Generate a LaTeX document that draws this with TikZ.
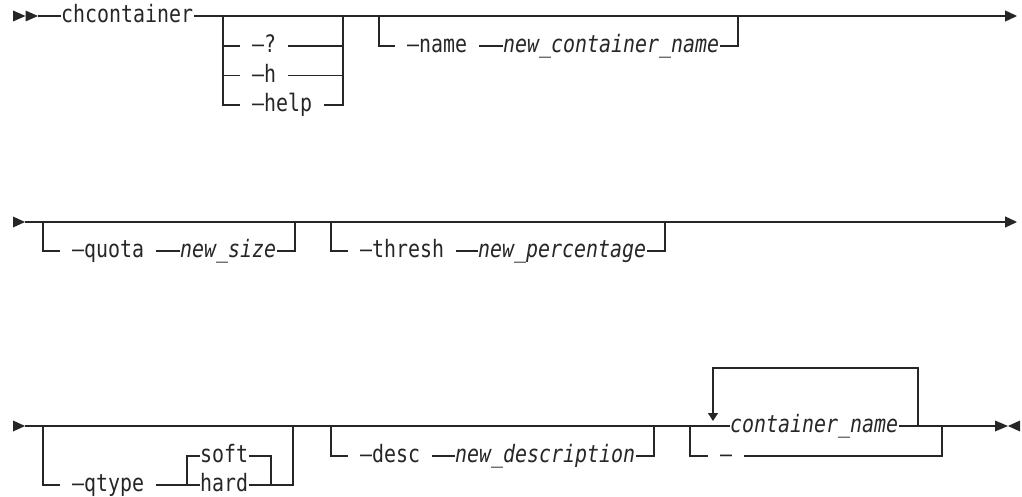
\documentclass[tikz,border=0pt]{standalone}
\usepackage{fontspec}
\newfontfamily\railmono[FakeStretch=0.83]{DejaVu Sans Mono}
\usetikzlibrary{arrows.meta}
\definecolor{ink}{RGB}{38,38,38}
\begin{document}
\begin{tikzpicture}[x=1pt,y=-1pt,
  rail/.style={draw=ink,line width=1.3pt},
  item/.style={inner ysep=0pt,text height=18.6pt,text depth=4.8pt,text=ink,
    font=\railmono\fontsize{24}{28}\selectfont},
  kw/.style={item,inner xsep=12pt,anchor=west},
  lit/.style={item,inner xsep=0.5pt,anchor=west},
  var/.style={lit,font=\railmono\itshape\fontsize{24}{28}\selectfont},
  tip/.style={-{Triangle[length=12pt,width=11pt]}},
  looptip/.style={-{Triangle[length=8pt,width=10pt]}},
]
\useasboundingbox (0,0) rectangle (1022,497);

% ---------- first line ----------
\fill[ink] (13,10.5) -- (25.5,16) -- (13,21.5) -- cycle;
\fill[ink] (25.5,10.5) -- (38,16) -- (25.5,21.5) -- cycle;
\coordinate (r1s) at (38,16);
\coordinate (r1e) at (1017,16);
\node[lit] (cmd) at (60.5,16) {chcontainer};
\draw[rail] (r1s) -- (cmd.west);
\draw[rail,tip] (cmd.east) -- (r1e);

% help options
\coordinate (b1l) at (223,16);
\coordinate (b1r) at (343,16);
\node[kw] (optq) at (240,46) {–?};
\node[kw] (opth) at (240,75.5) {–h};
\node[kw] (opthelp) at (240,105) {–help};
\draw[rail] (b1l) |- (optq.west);
\draw[rail] (b1l) |- (opth.west);
\draw[rail] (b1l) |- (opthelp.west);
\draw[rail] (optq.east) -| (b1r);
\draw[rail] (optq.east |- opth.east) -| (b1r);
\draw[rail] (opthelp.east) -| (b1r);

% -name
\coordinate (b2l) at (379,16);
\coordinate (b2r) at (738,16);
\node[kw] (optname) at (395,46) {–name};
\node[var] (newname) at (502.5,46) {new\_container\_name};
\draw[rail] (b2l) |- (optname.west);
\draw[rail] (optname.east) -- (newname.west);
\draw[rail] (newname.east) -| (b2r);

% ---------- second line ----------
\fill[ink] (13,216.5) -- (25,222) -- (13,227.5) -- cycle;
\coordinate (r2s) at (25,222);
\coordinate (r2e) at (1017,222);
\draw[rail,tip] (r2s) -- (r2e);

% -quota
\coordinate (b3l) at (43,222);
\coordinate (b3r) at (295,222);
\node[kw] (optquota) at (60,251) {–quota};
\node[var] (newsize) at (179.5,251) {new\_size};
\draw[rail] (b3l) |- (optquota.west);
\draw[rail] (optquota.east) -- (newsize.west);
\draw[rail] (newsize.east) -| (b3r);

% -thresh
\coordinate (b4l) at (331,222);
\coordinate (b4r) at (665,222);
\node[kw] (optthresh) at (348,251) {–thresh};
\node[var] (newpct) at (477.5,251) {new\_percentage};
\draw[rail] (b4l) |- (optthresh.west);
\draw[rail] (optthresh.east) -- (newpct.west);
\draw[rail] (newpct.east) -| (b4r);

% ---------- third line ----------
\fill[ink] (13,420.5) -- (25,426) -- (13,431.5) -- cycle;
\coordinate (r3s) at (25,426);

% -qtype soft|hard
\coordinate (b5l) at (43,426);
\coordinate (b5r) at (293,426);
\coordinate (sl) at (187,456);
\coordinate (sr) at (271,456);
\node[kw] (optqtype) at (60,485) {–qtype};
\node[lit] (soft) at (199.5,456) {soft};
\node[lit] (hard) at (199.5,485) {hard};
\draw[rail] (b5l) |- (optqtype.west);
\draw[rail] (optqtype.east) -- (hard.west);
\draw[rail] (sl |- hard.west) |- (soft.west);
\draw[rail] (soft.east) -| (sr) -- (sr |- hard.east);
\draw[rail] (hard.east) -| (b5r);

% -desc
\coordinate (b6l) at (331,426);
\coordinate (b6r) at (654,426);
\node[kw] (optdesc) at (348,456) {–desc};
\node[var] (newdesc) at (454.5,456) {new\_description};
\draw[rail] (b6l) |- (optdesc.west);
\draw[rail] (optdesc.east) -- (newdesc.west);
\draw[rail] (newdesc.east) -| (b6r);

% container_name (repeatable) or -
\coordinate (b7l) at (690,426);
\coordinate (b7r) at (942,426);
\coordinate (endc) at (995,426);
\node[var] (cname) at (729.5,426) {container\_name};
\node[kw] (stdin) at (708,456) {–};
\draw[rail] (r3s) -- (b7l) -- (cname.west);
\draw[rail] (cname.east) -- (b7r) -- (endc);
\draw[rail] (b7l) |- (stdin.west);
\draw[rail] (stdin.east) -| (b7r);
\coordinate (loopR) at (918,426);
\coordinate (loopTop) at (713,368);
\coordinate (loopTip) at (713,421);
\draw[rail,looptip] (loopR) |- (loopTop) -- (loopTip);

% end marks
\fill[ink] (995,420.5) -- (1008,426) -- (995,431.5) -- cycle;
\fill[ink] (1020,420.5) -- (1008,426) -- (1020,431.5) -- cycle;
\end{tikzpicture}
\end{document}
